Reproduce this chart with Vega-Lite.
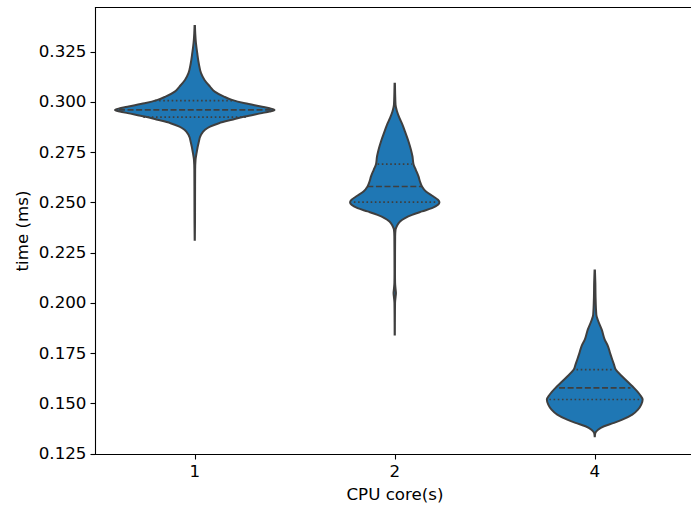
{
  "$schema": "https://vega.github.io/schema/vega-lite/v6.json",
  "padding": {"left": 14, "top": 7, "right": 0, "bottom": 0},
  "background": "white",
  "config": {
    "view": {"stroke": null},
    "font": "DejaVu Sans",
    "axis": {"domainColor": "black", "tickColor": "black", "labelColor": "black", "titleColor": "black", "labelFont": "DejaVu Sans", "titleFont": "DejaVu Sans", "domainWidth": 1.1, "tickWidth": 1.1, "domainCap": "square"}
  },
  "data": {"values": [
    {"core": "1", "kind": "kde", "time": 0.3378, "density": 0.4},
    {"core": "1", "kind": "kde", "time": 0.3340, "density": 1.0},
    {"core": "1", "kind": "kde", "time": 0.3292, "density": 2.4},
    {"core": "1", "kind": "kde", "time": 0.3242, "density": 5},
    {"core": "1", "kind": "kde", "time": 0.3192, "density": 8},
    {"core": "1", "kind": "kde", "time": 0.3143, "density": 12.6},
    {"core": "1", "kind": "kde", "time": 0.3109, "density": 19.6},
    {"core": "1", "kind": "kde", "time": 0.3076, "density": 30.6},
    {"core": "1", "kind": "kde", "time": 0.3051, "density": 40},
    {"core": "1", "kind": "kde", "time": 0.3026, "density": 58.6},
    {"core": "1", "kind": "kde", "time": 0.3010, "density": 74.6},
    {"core": "1", "kind": "kde", "time": 0.2993, "density": 100.6},
    {"core": "1", "kind": "kde", "time": 0.2977, "density": 132.6},
    {"core": "1", "kind": "kde", "time": 0.2968, "density": 150},
    {"core": "1", "kind": "kde", "time": 0.2960, "density": 160},
    {"core": "1", "kind": "kde", "time": 0.2952, "density": 150},
    {"core": "1", "kind": "kde", "time": 0.2944, "density": 134.6},
    {"core": "1", "kind": "kde", "time": 0.2927, "density": 100.6},
    {"core": "1", "kind": "kde", "time": 0.2911, "density": 74.6},
    {"core": "1", "kind": "kde", "time": 0.2894, "density": 48.6},
    {"core": "1", "kind": "kde", "time": 0.2877, "density": 30.6},
    {"core": "1", "kind": "kde", "time": 0.2861, "density": 20.6},
    {"core": "1", "kind": "kde", "time": 0.2836, "density": 12.6},
    {"core": "1", "kind": "kde", "time": 0.2795, "density": 7.6},
    {"core": "1", "kind": "kde", "time": 0.2745, "density": 3.6},
    {"core": "1", "kind": "kde", "time": 0.2712, "density": 1.6},
    {"core": "1", "kind": "kde", "time": 0.2662, "density": 0.8},
    {"core": "1", "kind": "kde", "time": 0.2500, "density": 0.6},
    {"core": "1", "kind": "kde", "time": 0.2400, "density": 0.5},
    {"core": "1", "kind": "kde", "time": 0.2314, "density": 0.2},
    {"core": "1", "kind": "quartile", "time": 0.3006, "density": 80},
    {"core": "1", "kind": "median", "time": 0.2960, "density": 152},
    {"core": "1", "kind": "quartile", "time": 0.2924, "density": 103},

    {"core": "2", "kind": "kde", "time": 0.3090, "density": 0.4},
    {"core": "2", "kind": "kde", "time": 0.3040, "density": 0.8},
    {"core": "2", "kind": "kde", "time": 0.2985, "density": 1.6},
    {"core": "2", "kind": "kde", "time": 0.2952, "density": 4.6},
    {"core": "2", "kind": "kde", "time": 0.2919, "density": 9.6},
    {"core": "2", "kind": "kde", "time": 0.2886, "density": 15.6},
    {"core": "2", "kind": "kde", "time": 0.2852, "density": 20.6},
    {"core": "2", "kind": "kde", "time": 0.2803, "density": 27.6},
    {"core": "2", "kind": "kde", "time": 0.2761, "density": 32.6},
    {"core": "2", "kind": "kde", "time": 0.2728, "density": 35.6},
    {"core": "2", "kind": "kde", "time": 0.2690, "density": 37.6},
    {"core": "2", "kind": "kde", "time": 0.2662, "density": 42.2},
    {"core": "2", "kind": "kde", "time": 0.2629, "density": 47.6},
    {"core": "2", "kind": "kde", "time": 0.2604, "density": 50.6},
    {"core": "2", "kind": "kde", "time": 0.2579, "density": 54.6},
    {"core": "2", "kind": "kde", "time": 0.2554, "density": 62.6},
    {"core": "2", "kind": "kde", "time": 0.2529, "density": 77.6},
    {"core": "2", "kind": "kde", "time": 0.2513, "density": 86.6},
    {"core": "2", "kind": "kde", "time": 0.2501, "density": 89.6},
    {"core": "2", "kind": "kde", "time": 0.2488, "density": 86.6},
    {"core": "2", "kind": "kde", "time": 0.2471, "density": 74.6},
    {"core": "2", "kind": "kde", "time": 0.2455, "density": 54.6},
    {"core": "2", "kind": "kde", "time": 0.2438, "density": 34.6},
    {"core": "2", "kind": "kde", "time": 0.2422, "density": 20.6},
    {"core": "2", "kind": "kde", "time": 0.2405, "density": 10.6},
    {"core": "2", "kind": "kde", "time": 0.2384, "density": 4.6},
    {"core": "2", "kind": "kde", "time": 0.2364, "density": 1.6},
    {"core": "2", "kind": "kde", "time": 0.2330, "density": 0.8},
    {"core": "2", "kind": "kde", "time": 0.2250, "density": 0.6},
    {"core": "2", "kind": "kde", "time": 0.2150, "density": 0.5},
    {"core": "2", "kind": "kde", "time": 0.2100, "density": 0.7},
    {"core": "2", "kind": "kde", "time": 0.2070, "density": 1.6},
    {"core": "2", "kind": "kde", "time": 0.2049, "density": 2.4},
    {"core": "2", "kind": "kde", "time": 0.2027, "density": 1.6},
    {"core": "2", "kind": "kde", "time": 0.2000, "density": 0.6},
    {"core": "2", "kind": "kde", "time": 0.1950, "density": 0.4},
    {"core": "2", "kind": "kde", "time": 0.1842, "density": 0.2},
    {"core": "2", "kind": "quartile", "time": 0.2690, "density": 34.4},
    {"core": "2", "kind": "median", "time": 0.2579, "density": 55},
    {"core": "2", "kind": "quartile", "time": 0.2501, "density": 82},

    {"core": "4", "kind": "kde", "time": 0.2161, "density": 0.4},
    {"core": "4", "kind": "kde", "time": 0.2100, "density": 1.2},
    {"core": "4", "kind": "kde", "time": 0.2032, "density": 1.6},
    {"core": "4", "kind": "kde", "time": 0.1941, "density": 3.2},
    {"core": "4", "kind": "kde", "time": 0.1916, "density": 6},
    {"core": "4", "kind": "kde", "time": 0.1867, "density": 14},
    {"core": "4", "kind": "kde", "time": 0.1817, "density": 20},
    {"core": "4", "kind": "kde", "time": 0.1784, "density": 26.6},
    {"core": "4", "kind": "kde", "time": 0.1751, "density": 30.6},
    {"core": "4", "kind": "kde", "time": 0.1717, "density": 35.2},
    {"core": "4", "kind": "kde", "time": 0.1693, "density": 38.6},
    {"core": "4", "kind": "kde", "time": 0.1668, "density": 42},
    {"core": "4", "kind": "kde", "time": 0.1635, "density": 54.6},
    {"core": "4", "kind": "kde", "time": 0.1601, "density": 68.6},
    {"core": "4", "kind": "kde", "time": 0.1577, "density": 78.6},
    {"core": "4", "kind": "kde", "time": 0.1543, "density": 90.6},
    {"core": "4", "kind": "kde", "time": 0.1519, "density": 96},
    {"core": "4", "kind": "kde", "time": 0.1494, "density": 93.2},
    {"core": "4", "kind": "kde", "time": 0.1469, "density": 86.6},
    {"core": "4", "kind": "kde", "time": 0.1444, "density": 75.2},
    {"core": "4", "kind": "kde", "time": 0.1419, "density": 55.2},
    {"core": "4", "kind": "kde", "time": 0.1403, "density": 38.6},
    {"core": "4", "kind": "kde", "time": 0.1386, "density": 18.6},
    {"core": "4", "kind": "kde", "time": 0.1369, "density": 6.6},
    {"core": "4", "kind": "kde", "time": 0.1353, "density": 1.2},
    {"core": "4", "kind": "kde", "time": 0.1336, "density": 0.2},
    {"core": "4", "kind": "quartile", "time": 0.1668, "density": 36.6},
    {"core": "4", "kind": "median", "time": 0.1577, "density": 71.6},
    {"core": "4", "kind": "quartile", "time": 0.1519, "density": 91}
  ]},
  "transform": [
    {"calculate": "-datum.density/2", "as": "lo"},
    {"calculate": "datum.density/2", "as": "hi"}
  ],
  "facet": {
    "column": {
      "field": "core", "type": "ordinal", "title": "CPU core(s)",
      "header": {"labelOrient": "bottom", "titleOrient": "bottom", "labelFontSize": 16.7, "titleFontSize": 16.7, "labelFont": "DejaVu Sans", "titleFont": "DejaVu Sans", "titleFontWeight": "normal", "labelColor": "black", "titleColor": "black", "labelPadding": 4, "titlePadding": -4}
    }
  },
  "spacing": 0,
  "spec": {
    "width": 199.5,
    "height": 447,
    "resolve": {"axis": {"x": "independent"}},
    "layer": [
      {
        "transform": [{"filter": "datum.kind === 'kde'"}],
        "mark": {"type": "area", "orient": "horizontal", "fill": "#1f77b4", "stroke": "#3f3f3f", "strokeWidth": 2, "interpolate": "monotone"},
        "encoding": {
          "y": {"field": "time", "type": "quantitative", "scale": {"domain": [0.1248, 0.3472], "nice": false, "zero": false},
                "axis": {"title": "time (ms)", "values": [0.125, 0.15, 0.175, 0.2, 0.225, 0.25, 0.275, 0.3, 0.325], "format": ".3f", "tickSize": 5, "labelFontSize": 16.7, "titleFontSize": 16.7, "titleFontWeight": "normal", "grid": false, "labelPadding": 4, "titlePadding": 7}},
          "x": {"field": "lo", "type": "quantitative", "scale": {"domain": [-100, 100]},
                "axis": {"orient": "bottom", "values": [0], "labels": false, "title": null, "grid": false, "ticks": true, "tickSize": 5, "domain": true}},
          "x2": {"field": "hi"}
        }
      },
      {
        "transform": [{"filter": "datum.kind !== 'kde'"}],
        "mark": {"type": "rule", "color": "#3f3f3f", "stroke": "#3f3f3f", "strokeWidth": 1.6},
        "encoding": {
          "y": {"field": "time", "type": "quantitative"},
          "x": {"field": "lo", "type": "quantitative",
                "axis": {"orient": "top", "labels": false, "ticks": false, "title": null, "grid": false, "domain": true}},
          "x2": {"field": "hi"},
          "strokeDash": {"field": "kind", "type": "nominal", "scale": {"domain": ["median", "quartile"], "range": [[6, 2.6], [1.6, 2.6]]}, "legend": null}
        }
      }
    ]
  }
}
